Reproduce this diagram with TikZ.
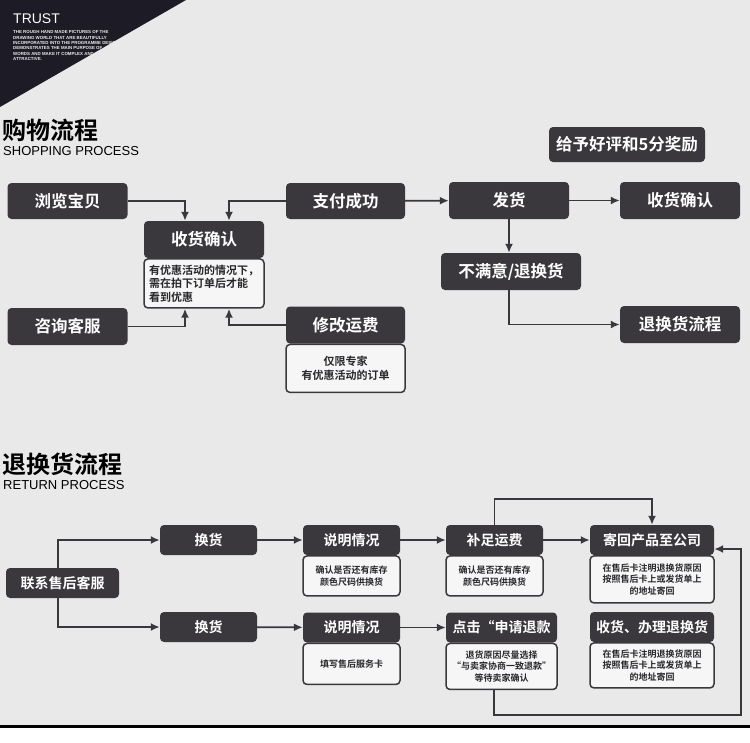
\documentclass[tikz,border=0pt]{standalone}
\usepackage{fontspec}
\setmainfont{Noto Sans CJK SC}[BoldFont={Noto Sans CJK SC Bold}]
\newfontfamily\latinfont{Liberation Sans}
\usepackage{tikz}
\usetikzlibrary{arrows,arrows.meta,positioning,calc}
\definecolor{boxcharcoal}{RGB}{58, 56, 61}
\definecolor{pagegray}{RGB}{233, 233, 233}
\definecolor{trustnavy}{RGB}{28, 27, 38}
\definecolor{notewhite}{RGB}{246, 246, 246}

\begin{document}
\begin{tikzpicture}[x=1pt,y=-1pt,
    darkbox/.style={fill=boxcharcoal,rounded corners=4pt,text=white,inner sep=0pt,
        font=\bfseries\fontsize{16.5}{18}\selectfont},
    smallbox/.style={darkbox,font=\bfseries\fontsize{14}{16}\selectfont},
    notebox/.style={draw=boxcharcoal,line width=1.5pt,fill=notewhite,rounded corners=4pt,
        text=boxcharcoal!70!black,inner sep=0pt,align=center,font=\bfseries\fontsize{9}{11.5}\selectfont},
    flow/.style={-{Latex[length=9pt,width=8pt]},line width=1.8pt,draw=boxcharcoal}]
    \useasboundingbox (0,0) rectangle (750,742);
    \fill[white] (0,0) rectangle (750,742);
    \fill[pagegray] (0,0) rectangle (750,725);
    \fill[black] (0,725) rectangle (750,727.5);
    % corner banner
    \fill[trustnavy] (0,0) -- (186,0) -- (0,107) -- cycle;
    \begin{scope}
        \clip (0,0) -- (186,0) -- (0,107) -- cycle;
        \node[anchor=west,text=white,font=\latinfont\fontsize{14}{14}\selectfont,inner sep=0pt] (trust) at (13,18.5) {TRUST};
        \node[anchor=north west,text=white!85!gray,align=left,inner sep=0pt,
            font=\latinfont\bfseries\fontsize{4.4}{5.4}\selectfont] (trusttext) at (13,30.5)
            {THE ROUGH HAND MADE PICTURES OF THE\\DRAWING WORLD THAT ARE BEAUTIFULLY\\INCORPORATED INTO THE PROGRAMME DESIGN\\DEMONSTRATES THE MAIN PURPOSE OF\\WORDS AND MAKE IT COMPLEX AND\\ATTRACTIVE.};
    \end{scope}
    % shopping process
    \node[anchor=west,inner sep=0pt,text=black,font=\bfseries\fontsize{24}{24}\selectfont] (shoptitle) at (2,130) {购物流程};
    \node[anchor=west,inner sep=0pt,text=black,font=\latinfont\fontsize{13}{13}\selectfont] (shopsub) at (3,151) {SHOPPING PROCESS};
    \node[darkbox,minimum width=120pt,minimum height=36pt] (browse) at (67.5,201) {浏览宝贝};
    \node[darkbox,minimum width=120pt,minimum height=37pt] (confirm) at (204,239.5) {收货确认};
    \node[notebox,anchor=north,minimum width=120pt,minimum height=49pt,align=left,
        font=\bfseries\fontsize{11}{13.5}\selectfont] (confirmnote) at (confirm.south) {有优惠活动的情况下，\\需在拍下订单后才能\\看到优惠};
    \node[darkbox,minimum width=119pt,minimum height=36pt] (paid) at (345.5,201) {支付成功};
    \node[darkbox,minimum width=120pt,minimum height=37pt] (consult) at (67.5,326.5) {咨询客服};
    \node[darkbox,minimum width=119pt,minimum height=37pt] (freight) at (345.5,325) {修改运费};
    \node[notebox,anchor=north,minimum width=119pt,minimum height=48pt,
        font=\bfseries\fontsize{11}{13.5}\selectfont] (freightnote) at (freight.south) {仅限专家\\有优惠活动的订单};
    \node[darkbox,minimum width=120pt,minimum height=37pt] (ship) at (509,200.5) {发货};
    \node[darkbox,minimum width=120pt,minimum height=37pt] (receive) at (680,200.5) {收货确认};
    \node[darkbox,minimum width=156pt,minimum height=35pt] (reward) at (627,144.5) {给予好评和5分奖励};
    \node[darkbox,minimum width=140pt,minimum height=37pt] (unhappy) at (511,271.5) {不满意/退换货};
    \node[darkbox,minimum width=120pt,minimum height=37pt] (returnflow) at (680,324.5) {退换货流程};
    \draw[flow] (browse.east) -| ([xshift=-19pt]confirm.north);
    \draw[flow] (paid.west) -| ([xshift=25pt]confirm.north);
    \draw[flow] (consult.east) -| ([xshift=-19pt]confirmnote.south);
    \draw[flow] (freight.west) -| ([xshift=25pt]confirmnote.south);
    \draw[flow] (paid) -- (ship);
    \draw[flow] (ship) -- (receive);
    \draw[flow] (ship.south) -- (ship.south |- unhappy.north);
    \draw[flow] ([xshift=-2pt]unhappy.south) |- (returnflow.west);
    % return process
    \node[anchor=west,inner sep=0pt,text=black,font=\bfseries\fontsize{24}{24}\selectfont] (returntitle) at (2,464) {退换货流程};
    \node[anchor=west,inner sep=0pt,text=black,font=\latinfont\fontsize{13}{13}\selectfont] (returnsub) at (3,485) {RETURN PROCESS};
    \node[smallbox,minimum width=113pt,minimum height=30pt] (service) at (62.5,583) {联系售后客服};
    \node[smallbox,minimum width=97pt,minimum height=30pt] (swapA) at (208.5,540) {换货};
    \node[smallbox,minimum width=97pt,minimum height=30pt] (swapB) at (208.5,627) {换货};
    \node[smallbox,minimum width=97pt,minimum height=30pt] (explainA) at (351.5,540) {说明情况};
    \node[notebox,anchor=north,minimum width=97pt,minimum height=40pt] (explainAnote) at (explainA.south) {确认是否还有库存\\颜色尺码供换货};
    \node[smallbox,minimum width=97pt,minimum height=30pt] (topup) at (494.5,540) {补足运费};
    \node[notebox,anchor=north,minimum width=97pt,minimum height=40pt] (topupnote) at (topup.south) {确认是否还有库存\\颜色尺码供换货};
    \node[smallbox,minimum width=124pt,minimum height=30pt] (sendback) at (652,540) {寄回产品至公司};
    \node[notebox,anchor=north,minimum width=124pt,minimum height=47pt] (sendbacknote) at (sendback.south) {在售后卡注明退换货原因\\按照售后卡上或发货单上\\的地址寄回};
    \node[smallbox,minimum width=97pt,minimum height=30pt] (explainB) at (351.5,627.5) {说明情况};
    \node[notebox,anchor=north,minimum width=97pt,minimum height=41pt] (explainBnote) at (explainB.south) {填写售后服务卡};
    \node[smallbox,minimum width=111pt,minimum height=30pt] (refund) at (501.5,627.5) {点击“申请退款};
    \node[notebox,anchor=north,minimum width=111pt,minimum height=46pt] (refundnote) at (refund.south) {退货原因尽量选择\\“与卖家协商一致退款”\\等待卖家确认};
    \node[smallbox,minimum width=124pt,minimum height=30pt] (handle) at (652,627) {收货、办理退换货};
    \node[notebox,anchor=north,minimum width=124pt,minimum height=45pt] (handlenote) at (handle.south) {在售后卡注明退换货原因\\按照售后卡上或发货单上\\的地址寄回};
    \coordinate (loopcorner) at (741,715);
    \draw[flow] ([xshift=-4.5pt]service.north) |- (swapA.west);
    \draw[flow] ([xshift=-4.5pt]service.south) |- (swapB.west);
    \draw[flow] (swapA) -- (explainA);
    \draw[flow] (explainA) -- (topup);
    \draw[flow] (topup) -- (sendback);
    \draw[flow] (swapB) -- (explainB);
    \draw[flow] (explainB) -- (refund);
    \draw[flow] (topup.north) -- ++(0,-26) -| (sendback.north);
    \draw[flow] ([xshift=-7.5pt]refundnote.south) |- (loopcorner) |- ([yshift=-9pt]sendback.east);
\end{tikzpicture}
\end{document}
